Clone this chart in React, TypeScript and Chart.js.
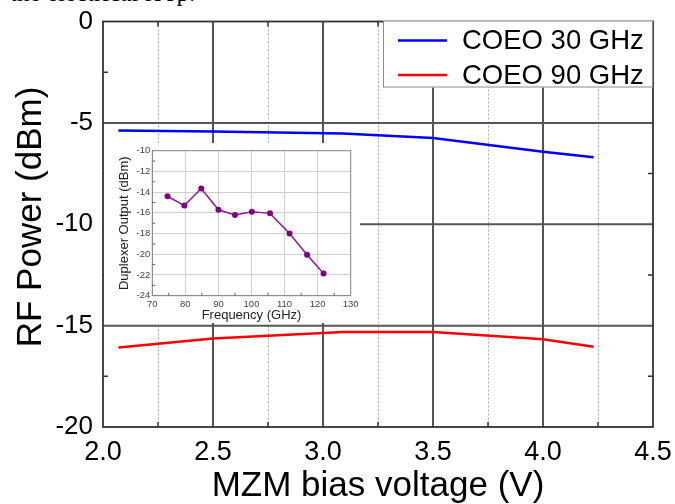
import React, { useEffect, useRef } from "react";
import { Chart, registerables } from "chart.js";

Chart.register(...registerables);

// ---- Main chart data ----
const biasVoltage = [2.07, 2.5, 3.09, 3.5, 4.0, 4.23];
const coeo30 = [-5.37, -5.42, -5.53, -5.75, -6.42, -6.7];
const coeo90 = [-16.08, -15.63, -15.32, -15.32, -15.67, -16.04];
const seriesLabels = ["COEO 30 GHz", "COEO 90 GHz"];
const seriesColors = ["#0000ff", "#ff0000"];
const yAxisTitle = "RF Power (dBm)";
const xAxisTitle = "MZM bias voltage (V)";

// ---- Inset chart data ----
const insetFreq = [74.6, 79.7, 84.8, 90, 95, 100.1, 105.6, 111.5, 116.8, 121.8];
const insetPower = [-14.4, -15.3, -13.65, -15.7, -16.2, -15.9, -16.05, -18.0, -20.05, -21.85];

const SANS = "'Liberation Sans', Arial, sans-serif";

const mainGridPlugin = {
  id: "mainGrid",
  beforeDatasetsDraw(chart: any) {
    const { ctx, chartArea: a } = chart;
    const xs = chart.scales.x;
    const ys = chart.scales.y;
    const xt: number[] = xs.ticks.map((t: any) => t.value);
    const yt: number[] = ys.ticks.map((t: any) => t.value);
    const xMinor: number[] = [];
    for (let i = 0; i < xt.length - 1; i++) xMinor.push((xt[i] + xt[i + 1]) / 2);
    const yMinor: number[] = [];
    for (let i = 0; i < yt.length - 1; i++) yMinor.push((yt[i] + yt[i + 1]) / 2);
    ctx.save();
    ctx.strokeStyle = "#a8a8a8";
    ctx.lineWidth = 1;
    ctx.setLineDash([2, 2]);
    xMinor.forEach((v) => {
      const px = Math.round(xs.getPixelForValue(v)) + 0.5;
      ctx.beginPath();
      ctx.moveTo(px, a.top);
      ctx.lineTo(px, a.bottom);
      ctx.stroke();
    });
    ctx.setLineDash([]);
    ctx.strokeStyle = "#1a1a1a";
    ctx.lineWidth = 1.5;
    xt.filter((v) => v > xs.min && v < xs.max).forEach((v) => {
      const px = xs.getPixelForValue(v);
      ctx.beginPath();
      ctx.moveTo(px, a.top);
      ctx.lineTo(px, a.bottom);
      ctx.stroke();
    });
    ctx.strokeStyle = "#555555";
    ctx.lineWidth = 2;
    yt.filter((v) => v > ys.min && v < ys.max).forEach((v) => {
      const py = ys.getPixelForValue(v);
      ctx.beginPath();
      ctx.moveTo(a.left, py);
      ctx.lineTo(a.right, py);
      ctx.stroke();
    });
    ctx.strokeStyle = "#333";
    ctx.lineWidth = 1.5;
    xMinor.forEach((v) => {
      const px = xs.getPixelForValue(v);
      ctx.beginPath();
      ctx.moveTo(px, a.bottom);
      ctx.lineTo(px, a.bottom - 5);
      ctx.moveTo(px, a.top);
      ctx.lineTo(px, a.top + 5);
      ctx.stroke();
    });
    yMinor.forEach((v) => {
      const py = ys.getPixelForValue(v);
      ctx.beginPath();
      ctx.moveTo(a.left, py);
      ctx.lineTo(a.left + 5, py);
      ctx.moveTo(a.right, py);
      ctx.lineTo(a.right - 5, py);
      ctx.stroke();
    });
    ctx.strokeStyle = "#333";
    ctx.lineWidth = 1.8;
    ctx.strokeRect(a.left, a.top, a.right - a.left, a.bottom - a.top);
    ctx.restore();
  },
  afterDraw(chart: any) {
    const { ctx } = chart;
    ctx.save();
    ctx.translate(31, 217);
    ctx.rotate(-Math.PI / 2);
    ctx.fillStyle = "#000";
    ctx.font = `35px ${SANS}`;
    ctx.textAlign = "center";
    ctx.textBaseline = "middle";
    ctx.fillText(yAxisTitle, 0, 0);
    ctx.restore();
  },
};

const mainLegendPlugin = {
  id: "mainLegend",
  afterDraw(chart: any) {
    const { ctx, chartArea: a } = chart;
    const w = 270;
    const h = 67;
    const left = a.right - w;
    const top = a.top - 1;
    ctx.save();
    ctx.fillStyle = "#ffffff";
    ctx.fillRect(left, top, w, h);
    ctx.strokeStyle = "#8a8a8a";
    ctx.lineWidth = 1;
    ctx.strokeRect(left + 0.5, top + 0.5, w - 1, h - 1);
    chart.data.datasets.forEach((ds: any, i: number) => {
      const y = top + 20 + i * 34.5;
      ctx.strokeStyle = ds.borderColor;
      ctx.lineWidth = 2.5;
      ctx.beginPath();
      ctx.moveTo(left + 15, y);
      ctx.lineTo(left + 64, y);
      ctx.stroke();
      ctx.fillStyle = "#000";
      ctx.font = `27.5px ${SANS}`;
      ctx.textBaseline = "middle";
      ctx.textAlign = "left";
      ctx.fillText(ds.label, left + 79, y + 1);
    });
    ctx.restore();
  },
};

const insetFramePlugin = {
  id: "insetFrame",
  afterDatasetsDraw(chart: any) {
    const { ctx, chartArea: a } = chart;
    const ys = chart.scales.y;
    const xs = chart.scales.x;
    const yt: number[] = ys.ticks.map((t: any) => t.value);
    const xt: number[] = xs.ticks.map((t: any) => t.value);
    ctx.save();
    ctx.strokeStyle = "#8c8c8c";
    ctx.lineWidth = 1;
    ctx.strokeRect(a.left, a.top, a.right - a.left, a.bottom - a.top);
    ctx.strokeStyle = "#666";
    for (let i = 0; i < yt.length - 1; i++) {
      const py = ys.getPixelForValue((yt[i] + yt[i + 1]) / 2);
      ctx.beginPath();
      ctx.moveTo(a.left, py);
      ctx.lineTo(a.left + 3, py);
      ctx.stroke();
    }
    for (let i = 0; i < xt.length - 1; i++) {
      const px = xs.getPixelForValue((xt[i] + xt[i + 1]) / 2);
      ctx.beginPath();
      ctx.moveTo(px, a.bottom);
      ctx.lineTo(px, a.bottom - 3);
      ctx.stroke();
    }
    ctx.restore();
  },
};

const zeroPadX = (s: any, h: number) => {
  s.height = h;
  s.paddingLeft = 0;
  s.paddingRight = 0;
};
const zeroPadY = (s: any, w: number) => {
  s.width = w;
  s.paddingTop = 0;
  s.paddingBottom = 0;
};

export default function App() {
  const mainRef = useRef<HTMLCanvasElement>(null);
  const insetRef = useRef<HTMLCanvasElement>(null);

  useEffect(() => {
    const main = new Chart(mainRef.current as HTMLCanvasElement, {
      type: "line",
      data: {
        datasets: [
          {
            label: seriesLabels[0],
            data: biasVoltage.map((x, i) => ({ x, y: coeo30[i] })),
            borderColor: seriesColors[0],
            borderWidth: 2.5,
            pointRadius: 0,
            fill: false,
          },
          {
            label: seriesLabels[1],
            data: biasVoltage.map((x, i) => ({ x, y: coeo90[i] })),
            borderColor: seriesColors[1],
            borderWidth: 2.5,
            pointRadius: 0,
            fill: false,
          },
        ],
      },
      options: {
        animation: false,
        responsive: false,
        layout: { padding: { left: 0, right: 22, top: 21.5, bottom: 0 } },
        plugins: { legend: { display: false }, tooltip: { enabled: false } },
        scales: {
          x: {
            type: "linear",
            min: 2,
            max: 4.5,
            ticks: {
              stepSize: 0.5,
              callback: (v: any) => Number(v).toFixed(1),
              font: { family: SANS, size: 27 },
              color: "#000",
              padding: 9,
              maxRotation: 0,
              autoSkip: false,
            },
            grid: { display: false, drawTicks: false },
            border: { display: false },
            title: {
              display: true,
              text: xAxisTitle,
              font: { family: SANS, size: 35, lineHeight: 1 },
              color: "#000",
              padding: { top: 0, bottom: 0 },
            },
            afterFit: (s: any) => zeroPadX(s, 77),
          },
          y: {
            type: "linear",
            min: -20,
            max: 0,
            ticks: {
              stepSize: 5,
              font: { family: SANS, size: 26 },
              color: "#000",
              padding: 10,
            },
            grid: { display: false, drawTicks: false },
            border: { display: false },
            title: { display: false },
            afterFit: (s: any) => zeroPadY(s, 103),
          },
        },
      } as any,
      plugins: [mainGridPlugin, mainLegendPlugin],
    });

    const inset = new Chart(insetRef.current as HTMLCanvasElement, {
      type: "line",
      data: {
        datasets: [
          {
            label: "Duplexer Output",
            data: insetFreq.map((x, i) => ({ x, y: insetPower[i] })),
            borderColor: "#8b1a8b",
            backgroundColor: "#800080",
            borderWidth: 1.5,
            pointRadius: 3,
            pointBackgroundColor: "#800080",
            pointBorderWidth: 0,
            fill: false,
          },
        ],
      },
      options: {
        animation: false,
        responsive: false,
        layout: { padding: { left: 0, right: 9.3, top: 7.7, bottom: 0 } },
        plugins: { legend: { display: false }, tooltip: { enabled: false } },
        scales: {
          x: {
            type: "linear",
            min: 70,
            max: 130,
            ticks: {
              stepSize: 10,
              font: { family: SANS, size: 9.5 },
              color: "#444",
              padding: 3,
              maxRotation: 0,
              autoSkip: false,
            },
            grid: { color: "#cfcfcf", lineWidth: 1, drawTicks: false },
            border: { color: "#8c8c8c", width: 1 },
            title: {
              display: true,
              text: "Frequency (GHz)",
              font: { family: SANS, size: 13, lineHeight: 1.2 },
              color: "#222",
              padding: { top: 0, bottom: 0 },
            },
            afterFit: (s: any) => zeroPadX(s, 27.3),
          },
          y: {
            type: "linear",
            min: -24,
            max: -10,
            ticks: {
              stepSize: 2,
              font: { family: SANS, size: 9.5 },
              color: "#444",
              padding: 2,
            },
            grid: { color: "#cfcfcf", lineWidth: 1, drawTicks: false },
            border: { color: "#8c8c8c", width: 1 },
            title: {
              display: true,
              text: "Duplexer Output (dBm)",
              font: { family: SANS, size: 13, lineHeight: 1.2 },
              color: "#222",
              padding: { top: 13, bottom: 0 },
            },
            afterFit: (s: any) => zeroPadY(s, 48.3),
          },
        },
      } as any,
      plugins: [insetFramePlugin],
    });

    return () => {
      main.destroy();
      inset.destroy();
    };
  }, []);

  return (
    <div
      style={{
        position: "fixed",
        left: 0,
        top: 0,
        width: 675,
        height: 504,
        background: "#fff",
        overflow: "hidden",
      }}
    >
      <div
        style={{
          position: "absolute",
          left: 10,
          top: -20,
          fontFamily: "'Liberation Serif', 'Times New Roman', serif",
          fontSize: 25,
          lineHeight: "25px",
          whiteSpace: "nowrap",
          color: "#000",
        }}
      >
        the electrical loop.
      </div>
      <canvas
        ref={mainRef}
        width={675}
        height={504}
        style={{ position: "absolute", left: 0, top: 0, width: 675, height: 504 }}
      />
      <canvas
        ref={insetRef}
        width={256}
        height={180}
        style={{
          position: "absolute",
          left: 104,
          top: 143,
          width: 256,
          height: 180,
          background: "#fff",
        }}
      />
    </div>
  );
}
